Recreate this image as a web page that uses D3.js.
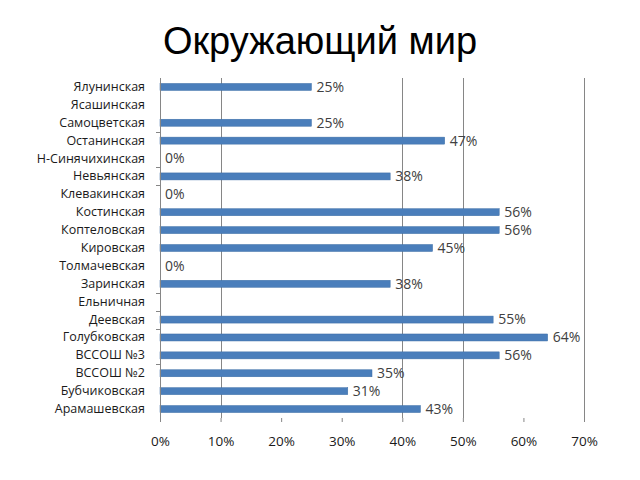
<!DOCTYPE html>
<html><head><meta charset="utf-8">
<script src="https://cdn.jsdelivr.net/npm/d3@7"></script>
<style>body{margin:0;background:#fff}</style>
</head><body>
<svg id="c" width="640" height="480"></svg>
<script>
const categories = ["Ялунинская","Ясашинская","Самоцветская","Останинская","Н-Синячихинская","Невьянская","Клевакинская","Костинская","Коптеловская","Кировская","Толмачевская","Заринская","Ельничная","Деевская","Голубковская","ВССОШ №3","ВССОШ №2","Бубчиковская","Арамашевская"];
const values = [0.25,null,0.25,0.47,0,0.38,0,0.56,0.56,0.45,0,0.38,null,0.55,0.64,0.56,0.35,0.31,0.43];
const xTicks = [0,0.1,0.2,0.3,0.4,0.5,0.6,0.7];
const gridTicks = [0.1,0.4,0.5,0.7];
const catTickAfter = [2,4,5,11,12,13,15];
const title = "Окружающий мир";

(function(){
const svg = d3.select("#c");
const mLeft = 160, mRight = 584, mTop = 78, mBottom = 418;
const x = d3.scaleLinear().domain([0,0.7]).range([mLeft,mRight]);
const y = d3.scaleBand().domain(categories).range([mTop,mBottom]).paddingInner(0.6).paddingOuter(0.3);
const fmt = d3.format(".0%");
const step = y.step();

svg.append("text").attr("x",320).attr("y",54).attr("text-anchor","middle")
  .attr("font-family","Liberation Sans, Arial, sans-serif").attr("font-size",38).attr("fill","#000").text(title);

svg.append("g").selectAll("line").data(gridTicks).join("line")
  .attr("x1",d=>Math.round(x(d))+0.5).attr("x2",d=>Math.round(x(d))+0.5).attr("y1",mTop).attr("y2",mBottom)
  .attr("stroke","#868686").attr("stroke-width",1);

const data = categories.map((c,i)=>({c,v:values[i]}));
svg.append("g").selectAll("rect").data(data.filter(d=>d.v!==null && d.v>0)).join("rect")
  .attr("x",x(0)).attr("y",d=>y(d.c)+y.bandwidth()/2-3.5).attr("width",d=>x(d.v)-x(0)).attr("height",7)
  .attr("fill","#4a7ebb").attr("stroke","#3d6ea6").attr("stroke-width",0.5);

svg.append("g").selectAll("text").data(data.filter(d=>d.v!==null)).join("text")
  .attr("x",d=>x(d.v)+5).attr("y",d=>y(d.c)+y.bandwidth()/2).attr("dy","0.35em")
  .attr("font-family","Open Sans, DejaVu Sans, sans-serif").attr("font-size",14).attr("fill","#404040")
  .text(d=>fmt(d.v));

const yAxis = d3.axisLeft(y).tickSize(0).tickPadding(15);
const gy = svg.append("g").attr("transform",`translate(${mLeft},0)`).call(yAxis);
gy.select(".domain").attr("stroke","#868686").attr("d",`M0.5,${mTop}V${mBottom+4}`);
gy.selectAll("text").attr("font-family","Open Sans, DejaVu Sans, sans-serif").attr("font-size",12.5).attr("fill","#1a1a1a");

// category boundary ticks
gy.append("g").selectAll("line").data(catTickAfter).join("line")
  .attr("x1",-4).attr("x2",0.5)
  .attr("y1",i=>Math.round(y(categories[i])+y.bandwidth()+ (step-y.bandwidth())/2)+0.5)
  .attr("y2",i=>Math.round(y(categories[i])+y.bandwidth()+ (step-y.bandwidth())/2)+0.5)
  .attr("stroke","#868686");

const xAxis = d3.axisBottom(x).tickValues(xTicks).tickFormat(fmt).tickSize(4).tickPadding(14);
const gx = svg.append("g").attr("transform",`translate(0,${mBottom})`).call(xAxis);
gx.select(".domain").remove();
gx.selectAll(".tick line").attr("stroke","#868686");
gx.selectAll("text").attr("font-family","Open Sans, DejaVu Sans, sans-serif").attr("font-size",13.5).attr("fill","#1a1a1a");
})();
</script>
</body></html>
